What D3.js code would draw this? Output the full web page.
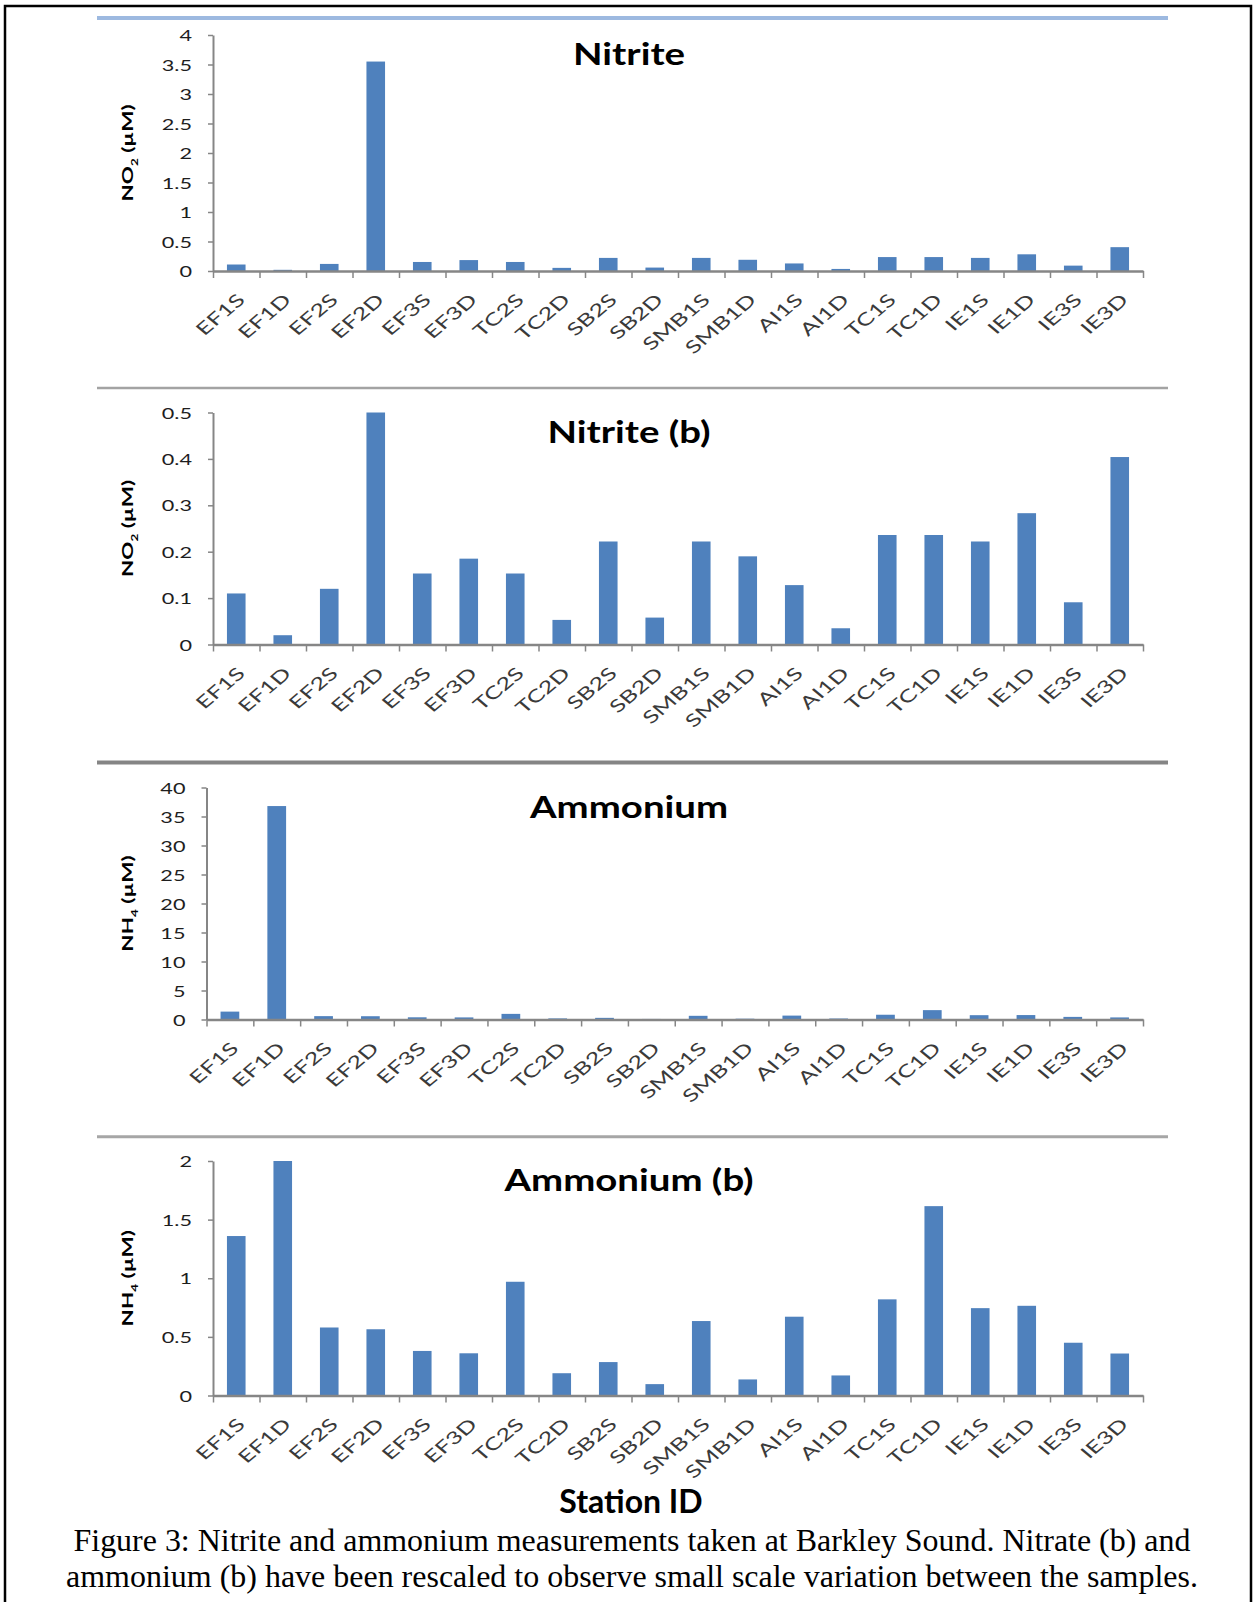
<!DOCTYPE html>
<html>
<head>
<meta charset="utf-8">
<script src="https://cdn.jsdelivr.net/npm/d3@7"></script>
<style>
body { margin: 0; background: #fff; }
svg { display: block; }
</style>
</head>
<body>
<script>
// station ids along the x axis
var stations = ["EF1S", "EF1D", "EF2S", "EF2D", "EF3S", "EF3D", "TC2S", "TC2D", "SB2S", "SB2D",
    "SMB1S", "SMB1D", "AI1S", "AI1D", "TC1S", "TC1D", "IE1S", "IE1D", "IE3S", "IE3D"];

var nitrite = [0.11, 0.02, 0.12, 3.55, 0.153, 0.185, 0.153, 0.053, 0.222, 0.058,
    0.222, 0.19, 0.128, 0.035, 0.236, 0.236, 0.222, 0.283, 0.091, 0.404];
var ammonium = [1.36, 36.8, 0.58, 0.565, 0.38, 0.36, 0.97, 0.19, 0.285, 0.097,
    0.635, 0.137, 0.672, 0.171, 0.82, 1.615, 0.745, 0.765, 0.45, 0.358];

// y tick labels of each panel
var nitriteTicks = [0, 0.5, 1, 1.5, 2, 2.5, 3, 3.5, 4];
var nitriteBTicks = [0, 0.1, 0.2, 0.3, 0.4, 0.5];
var ammoniumTicks = [0, 5, 10, 15, 20, 25, 30, 35, 40];
var ammoniumBTicks = [0, 0.5, 1, 1.5, 2];

var W = 1254, H = 1602;
var X1 = 1143;
var barColor = "#4f81bd";
var axisColor = "#868686";

var panels = [
    {"title": "Nitrite", "values": nitrite, "ticks": nitriteTicks, "ion": "NO", "sub": "2",
        "x0": 213, "top": 35, "bottom": 271, "sepY": 18, "sepColor": "#9db9e0", "sepW": 4},
    {"title": "Nitrite (b)", "values": nitrite, "ticks": nitriteBTicks, "ion": "NO", "sub": "2",
        "x0": 213, "top": 412.5, "bottom": 644.5, "sepY": 388, "sepColor": "#a3a3a3", "sepW": 2.5},
    {"title": "Ammonium", "values": ammonium, "ticks": ammoniumTicks, "ion": "NH", "sub": "4",
        "x0": 206.5, "top": 787.5, "bottom": 1019.5, "sepY": 762.5, "sepColor": "#858585", "sepW": 4},
    {"title": "Ammonium (b)", "values": ammonium, "ticks": ammoniumBTicks, "ion": "NH", "sub": "4",
        "x0": 213, "top": 1161, "bottom": 1395.5, "sepY": 1136.7, "sepColor": "#a6a6a6", "sepW": 3}
];

var svg = d3.select("body").append("svg")
    .attr("width", W).attr("height", H);

svg.append("rect")
    .attr("x", 5).attr("y", 6).attr("width", 1246).attr("height", 1610)
    .attr("fill", "none").attr("stroke", "#000").attr("stroke-width", 2.5);

panels.forEach(function(p){
    var g = svg.append("g");

    g.append("line")
        .attr("x1", 97).attr("x2", 1168).attr("y1", p.sepY).attr("y2", p.sepY)
        .attr("stroke", p.sepColor).attr("stroke-width", p.sepW);

    var max = p.ticks[p.ticks.length - 1];
    var x = d3.scaleBand().domain(stations).range([p.x0, X1])
        .paddingInner(0.6).paddingOuter(0.3);
    var xEdge = d3.scaleLinear().domain([0, stations.length]).range([p.x0, X1]);
    var y = d3.scaleLinear().domain([0, max]).range([p.bottom, p.top]).clamp(true);

    var data = stations.map(function(s, i){ return {"name": s, "value": p.values[i]}; });

    g.selectAll("rect.bar")
        .data(data)
        .enter().append("rect")
        .attr("class", "bar")
        .attr("x", function(d){ return x(d.name); })
        .attr("width", x.bandwidth())
        .attr("y", function(d){ return y(d.value); })
        .attr("height", function(d){ return y(0) - y(d.value); })
        .attr("fill", barColor);

    // y axis
    var yAxis = d3.axisLeft(y).tickValues(p.ticks).tickSize(5).tickSizeOuter(0)
        .tickFormat(function(d){ return String(d); });
    var yg = g.append("g").attr("transform", "translate(" + p.x0 + ",0)").call(yAxis);
    yg.select(".domain").attr("stroke", axisColor).attr("stroke-width", 2);
    yg.selectAll(".tick line").attr("stroke", axisColor).attr("stroke-width", 1.5);
    yg.selectAll(".tick text")
        .attr("x", null).attr("dy", "0.36em")
        .attr("transform", "translate(-21,0) scale(1.4,1)")
        .attr("fill", "#1e1e1e")
        .style("font-family", "Lato, 'Open Sans', sans-serif")
        .style("font-size", "15.5px");

    // x axis: ticks on category edges, labels on centres
    var xAxis = d3.axisBottom(xEdge).tickValues(d3.range(stations.length + 1))
        .tickSize(7).tickSizeOuter(0).tickFormat("");
    var xg = g.append("g").attr("transform", "translate(0," + p.bottom + ")").call(xAxis);
    xg.select(".domain").attr("stroke", axisColor).attr("stroke-width", 2.5);
    xg.selectAll(".tick line").attr("stroke", axisColor).attr("stroke-width", 1.5);

    g.selectAll("text.xlab")
        .data(stations)
        .enter().append("text")
        .attr("class", "xlab")
        .attr("transform", function(d){
            var cx = x(d) + x.bandwidth() / 2 + 10;
            return "translate(" + cx + "," + (p.bottom + 30) + ") scale(1.19,1) rotate(-45) scale(1.3,1)";
        })
        .attr("text-anchor", "end")
        .attr("fill", "#3a3a3a")
        .style("font-family", "Lato, 'Open Sans', sans-serif")
        .style("font-size", "17px")
        .text(function(d){ return d; });

    // title
    g.append("text")
        .attr("transform", "translate(629," + (p.top + 30) + ") scale(1.28,1)")
        .attr("text-anchor", "middle")
        .attr("fill", "#000")
        .style("font-family", "Lato, 'Open Sans', sans-serif")
        .style("font-weight", "bold")
        .style("font-size", "30px")
        .text(p.title);

    // y axis title
    var yt = g.append("text")
        .attr("transform", "translate(133," + ((p.top + p.bottom) / 2) + ") rotate(-90) scale(1.5,1)")
        .attr("text-anchor", "middle")
        .attr("fill", "#000")
        .style("font-family", "Lato, 'Open Sans', sans-serif")
        .style("font-weight", "bold")
        .style("font-size", "15px");
    yt.append("tspan").text(p.ion);
    yt.append("tspan").attr("baseline-shift", "sub").style("font-size", "9px").text(p.sub);
    yt.append("tspan").text(" (\u00b5M)");
});

svg.append("text")
    .attr("x", 631).attr("y", 1513)
    .attr("text-anchor", "middle")
    .style("font-family", "Lato, 'Open Sans', sans-serif")
    .style("font-weight", "bold")
    .style("font-size", "32px")
    .text("Station ID");

var caption = [
    "Figure 3: Nitrite and ammonium measurements taken at Barkley Sound. Nitrate (b) and",
    "ammonium (b) have been rescaled to observe small scale variation between the samples."
];
var capLen = [1117, 1132];
svg.selectAll("text.cap")
    .data(caption)
    .enter().append("text")
    .attr("class", "cap")
    .attr("x", 632)
    .attr("y", function(d, i){ return 1551 + i * 36; })
    .attr("text-anchor", "middle")
    .attr("textLength", function(d, i){ return capLen[i]; })
    .attr("lengthAdjust", "spacingAndGlyphs")
    .style("font-family", "'Liberation Serif', 'Times New Roman', serif")
    .style("font-size", "31px")
    .text(function(d){ return d; });
</script>
</body>
</html>
